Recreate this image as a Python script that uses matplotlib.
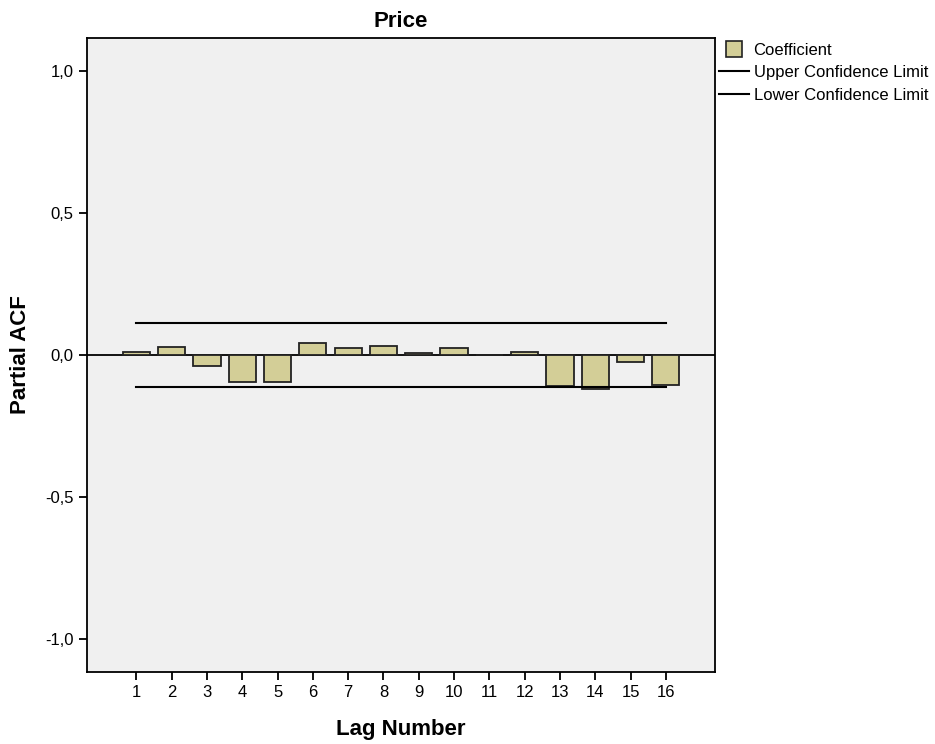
import numpy as np
import matplotlib
matplotlib.use('Agg')
import matplotlib.pyplot as plt
from matplotlib.lines import Line2D

plt.rcParams['font.family'] = ['Liberation Sans', 'DejaVu Sans']

# data
lags = list(range(1, 17))
coef = [0.010, 0.027, -0.039, -0.097, -0.094, 0.041, 0.026, 0.031,
        0.008, 0.024, 0.001, 0.010, -0.109, -0.119, -0.025, -0.107]
upper = [0.114] * 16
lower = [-0.114] * 16
yticks = [-1.0, -0.5, 0.0, 0.5, 1.0]
ytick_labels = ['-1,0', '-0,5', '0,0', '0,5', '1,0']

bar_color = '#D3CE97'

fig = plt.figure(figsize=(9.35, 7.44), dpi=100)
ax = fig.add_axes([0.093, 0.097, 0.672, 0.852])
ax.set_facecolor('#F0F0F0')

ax.bar(lags, coef, width=0.77, color=bar_color, edgecolor='#222222', linewidth=1.3, zorder=3)
ax.plot(lags, upper, color='black', linewidth=1.5, zorder=4)
ax.plot(lags, lower, color='black', linewidth=1.5, zorder=4)
ax.axhline(0, color='black', linewidth=1.3, zorder=2)

ax.set_xlim(-0.4, 17.4)
ax.set_ylim(-1.116, 1.116)
ax.set_xticks(lags)
ax.set_yticks(yticks)
ax.set_yticklabels(ytick_labels)
ax.tick_params(direction='out', length=6, width=1.3, labelsize=12, color='black')
for s in ax.spines.values():
    s.set_linewidth(1.3)

ax.set_title('Price', fontsize=16, fontweight='bold', pad=8)
ax.set_ylabel('Partial ACF', fontsize=16, fontweight='bold', labelpad=10)
ax.set_xlabel('Lag Number', fontsize=16, fontweight='bold', labelpad=14)

handles = [Line2D([0], [0], linestyle='none', marker='s', markersize=12,
                  markerfacecolor=bar_color, markeredgecolor='#222222', markeredgewidth=1.2),
           Line2D([0], [0], color='black', linewidth=1.5),
           Line2D([0], [0], color='black', linewidth=1.5)]
labels = ['Coefficient', 'Upper Confidence Limit', 'Lower Confidence Limit']
fig.legend(handles, labels, loc='upper left', bbox_to_anchor=(0.765, 0.947),
           frameon=False, fontsize=12, handlelength=1.8, handletextpad=0.3,
           labelspacing=0.45, borderpad=0.2, borderaxespad=0.0)

fig.savefig('out.png', dpi=100)
